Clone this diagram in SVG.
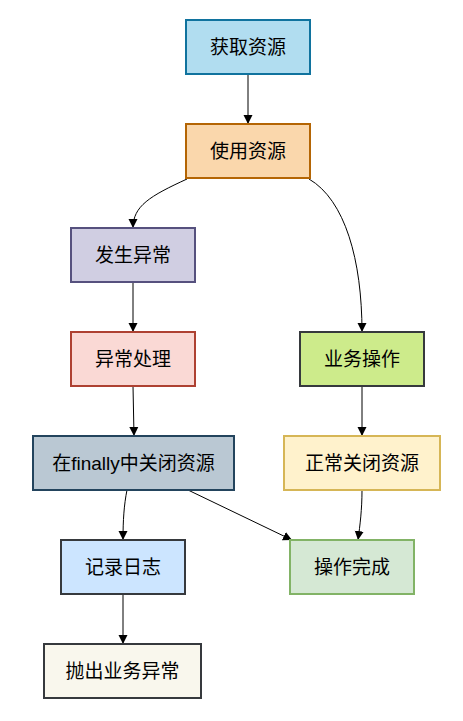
<svg xmlns="http://www.w3.org/2000/svg" width="463" height="721" viewBox="0 0 463 721">
<style>
rect{stroke-width:2}
text{font-family:"Liberation Sans","Noto Sans CJK SC",sans-serif;font-size:19px;fill:#000;text-anchor:middle;dominant-baseline:central}
.e{fill:none;stroke:#000;stroke-width:1}
</style>
<defs>
<marker id="a" viewBox="0 0 10 10" refX="10" refY="5" markerWidth="9" markerHeight="10" markerUnits="userSpaceOnUse" orient="auto">
<path d="M0,0 L10,5 L0,10 Z" fill="#000"/>
</marker>
</defs>
<rect width="463" height="721" fill="#fff" style="stroke:none"/>
<g id="edges">
<path class="e" d="M248,74 L248,124" marker-end="url(#a)"/>
<path class="e" d="M187,179 C150,196 133,206 133,228" marker-end="url(#a)"/>
<path class="e" d="M309,179 C345,200 362,260 362,332" marker-end="url(#a)"/>
<path class="e" d="M133,282 L133,332" marker-end="url(#a)"/>
<path class="e" d="M133,386 L134,436" marker-end="url(#a)"/>
<path class="e" d="M362,386 L362,436" marker-end="url(#a)"/>
<path class="e" d="M127,490 C124,505 123,520 123,540" marker-end="url(#a)"/>
<path class="e" d="M188,490 L292,540" marker-end="url(#a)"/>
<path class="e" d="M362,490 C362,510 360,525 358,540" marker-end="url(#a)"/>
<path class="e" d="M123,594 L123,644" marker-end="url(#a)"/>
</g>
<g id="n1"><rect x="186" y="20" width="124" height="54" fill="#b1ddf0" stroke="#10739e"/><text x="248" y="47">获取资源</text></g>
<g id="n2"><rect x="186" y="124" width="124" height="54" fill="#fad7ac" stroke="#b46504"/><text x="248" y="151">使用资源</text></g>
<g id="n3"><rect x="71" y="228" width="124" height="54" fill="#d0cee2" stroke="#56517e"/><text x="133" y="255">发生异常</text></g>
<g id="n4"><rect x="71" y="332" width="124" height="54" fill="#fad9d5" stroke="#ae4132"/><text x="133" y="359">异常处理</text></g>
<g id="n5"><rect x="300" y="332" width="124" height="54" fill="#cdeb8b" stroke="#36393d"/><text x="362" y="359">业务操作</text></g>
<g id="n6"><rect x="33" y="436" width="201" height="54" fill="#bac8d3" stroke="#23445d"/><text x="133.5" y="463">在finally中关闭资源</text></g>
<g id="n7"><rect x="284" y="436" width="156" height="54" fill="#fff2cc" stroke="#d6b656"/><text x="362" y="463">正常关闭资源</text></g>
<g id="n8"><rect x="61" y="540" width="124" height="54" fill="#cce5ff" stroke="#36393d"/><text x="123" y="567">记录日志</text></g>
<g id="n9"><rect x="290" y="540" width="124" height="54" fill="#d5e8d4" stroke="#82b366"/><text x="352" y="567">操作完成</text></g>
<g id="n10"><rect x="44" y="644" width="157" height="54" fill="#f9f7ed" stroke="#36393d"/><text x="122.5" y="671">抛出业务异常</text></g>
</svg>
